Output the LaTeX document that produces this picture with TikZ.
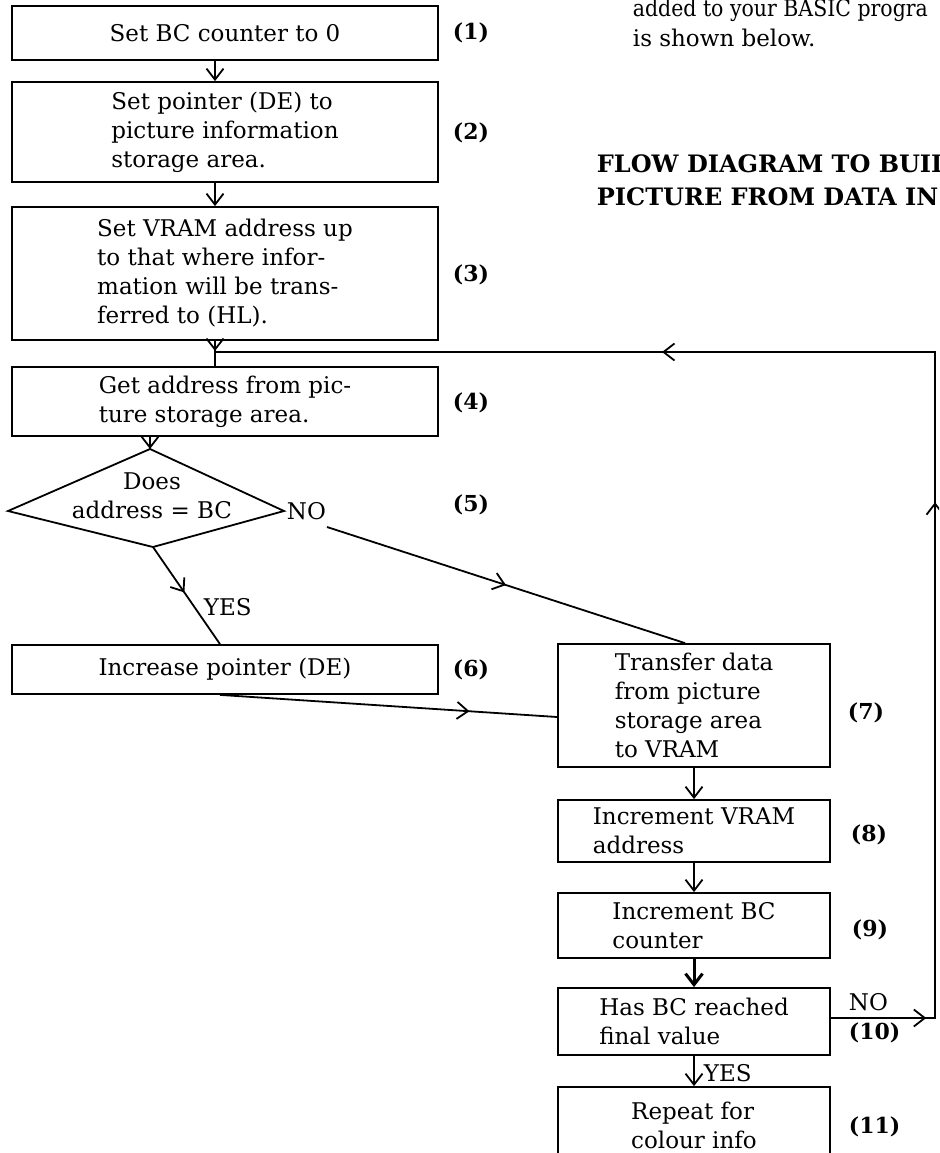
\documentclass[tikz,border=0pt]{standalone}
\usepackage{fontspec}
\setmainfont{DejaVu Serif}
\usetikzlibrary{arrows.meta,decorations.markings}
\begin{document}
\begin{tikzpicture}[x=1pt,y=-1pt,
  line width=1.8pt,
  txt/.style={font=\fontsize{23}{29}\selectfont},
  box/.style={draw, txt, rectangle, inner sep=0pt, align=left, line width=1.8pt},
  num/.style={font=\bfseries\fontsize{22}{26}\selectfont, anchor=west, inner sep=0pt},
  ttl/.style={font=\bfseries\fontsize{24}{28}\selectfont, anchor=base west, inner sep=0pt},
  arr/.style={-{Straight Barb[length=11pt,width=17pt]}},
  marr/.style={postaction={decorate},decoration={markings,mark=at position #1 with {\arrow{Straight Barb[length=11pt,width=17pt]}}}},
  loopmarks/.style={postaction={decorate},decoration={markings,
     mark=at position 0.064 with {\arrow{Straight Barb[length=11pt,width=17pt]}},
     mark=at position 0.416 with {\arrow{Straight Barb[length=11pt,width=17pt]}},
     mark=at position 0.70 with {\arrow{Straight Barb[length=11pt,width=17pt]}}}}
]
\useasboundingbox (0,0) rectangle (939,1153);
\clip (0,0) rectangle (939,1153);

% top-right text
\node[txt, anchor=base west, inner sep=0pt] (t1) at (632,17) {\scalebox{0.89}[1]{added to your BASIC progra}};
\node[txt, anchor=base west, inner sep=0pt] (t2) at (632,47) {is shown below.};
\node[ttl] (h1) at (596,172) {FLOW DIAGRAM TO BUIL};
\node[ttl] (h2) at (596,205) {PICTURE FROM DATA IN};

% left column boxes
\node[box, minimum width=426pt, minimum height=54pt] (b1) at (225,33) {Set BC counter to 0};
\node[box, minimum width=426pt, minimum height=100pt] (b2) at (225,132) {Set pointer (DE) to\\picture information\\storage area.};
\node[box, minimum width=426pt, minimum height=133pt] (b3) at (225,273.5) {Set VRAM address up\\to that where infor-\\mation will be trans-\\ferred to (HL).};
\node[box, minimum width=426pt, minimum height=69pt] (b4) at (225,401.5) {Get address from pic-\\ture storage area.};

% decision diamond
\coordinate (dt) at (150,449);
\coordinate (dr) at (284,511);
\coordinate (db) at (153,547);
\coordinate (dl) at (8,511);
\draw (dt) -- (dr) -- (db) -- (dl) -- cycle;
\node[txt, align=center, inner sep=0pt] (dq) at (152,496) {Does\\address = BC};
\node[txt, anchor=west, inner sep=0pt] (no1) at (286,511) {NO};
\coordinate (nos) at (327,527);
\node[txt, anchor=west, inner sep=0pt] (yes1) at (203,607) {YES};

\node[box, minimum width=426pt, minimum height=49pt] (b6) at (225,669.5) {Increase pointer (DE)};

% right column boxes
\node[box, minimum width=272pt, minimum height=123pt] (b7) at (694,705.5) {Transfer data\\from picture\\storage area\\to VRAM};
\node[box, minimum width=272pt, minimum height=62pt] (b8) at (694,831) {Increment VRAM\\address};
\node[box, minimum width=272pt, minimum height=65pt] (b9) at (694,925.5) {Increment BC\\counter};
\node[box, minimum width=272pt, minimum height=67pt] (b10) at (694,1021.5) {Has BC reached\\final value};
\node[box, minimum width=272pt, minimum height=76pt] (b11) at (694,1125) {Repeat for\\colour info};
\node[txt, anchor=west, inner sep=0pt] (yes2) at (703,1073) {YES};
\node[txt, anchor=west, inner sep=0pt] (no2) at (848,1002) {NO};

% step numbers
\node[num] (n1) at (452,33) {(1)};
\node[num] (n2) at (452,133) {(2)};
\node[num] (n3) at (452,275) {(3)};
\node[num] (n4) at (452,403) {(4)};
\node[num] (n5) at (452,505) {(5)};
\node[num] (n6) at (452,670) {(6)};
\node[num] (n7) at (847,713) {(7)};
\node[num] (n8) at (850,835) {(8)};
\node[num] (n9) at (851,930) {(9)};
\node[num] (n10) at (848,1033) {(10)};
\node[num] (n11) at (848,1127) {(11)};

% connectors
\draw[arr] ([xshift=-10pt]b1.south) -- ([xshift=-10pt]b2.north);
\draw[arr] ([xshift=-10pt]b2.south) -- ([xshift=-10pt]b3.north);
\coordinate (J) at (215,352);
\draw[marr=0.4] ([xshift=-10pt]b3.south) -- ([xshift=-10pt]b4.north);
\draw[arr] (b4.south -| dt) -- (dt);
\draw[marr=0.47] (db) -- ([xshift=-5pt]b6.north);
\draw[marr=0.5] (nos) -- ([xshift=-9pt]b7.north);
\draw[marr=0.74] ([xshift=-5pt]b6.south) -- ([yshift=-11.5pt]b7.west);
\draw[arr] (b7.south) -- (b8.north);
\draw[arr] (b8.south) -- (b9.north);
\draw[arr, line width=3pt] (b9.south) -- (b10.north);
\draw[arr] (b10.south) -- (b11.north);
\coordinate (c1) at (935,1018);
\coordinate (c2) at (935,352);
\draw[loopmarks] (b10.east |- c1) -- (c1) -- (c2) -- (J);
\end{tikzpicture}
\end{document}
